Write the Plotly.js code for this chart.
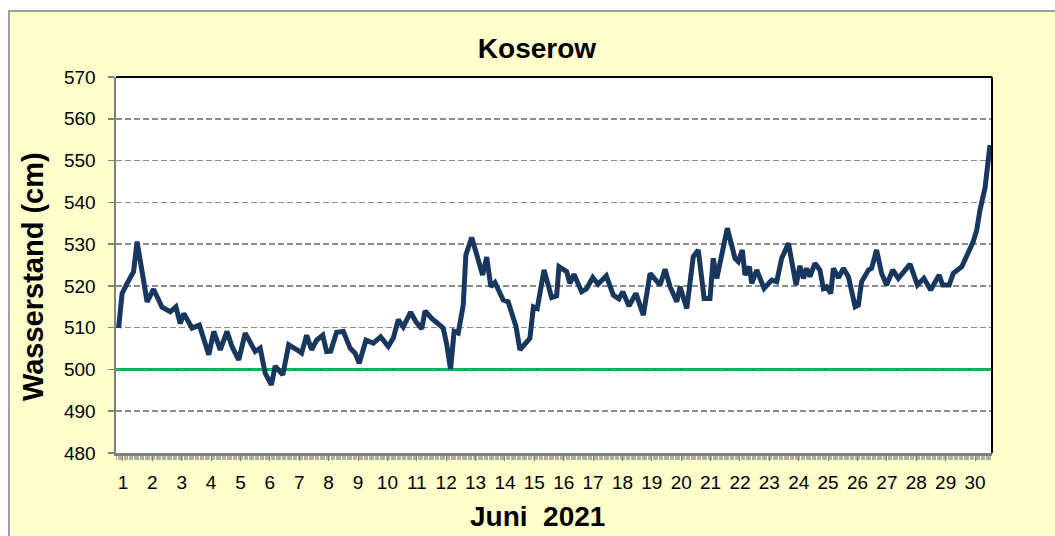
<!DOCTYPE html>
<html>
<head>
<meta charset="utf-8">
<script src="https://cdn.plot.ly/plotly-3.0.1.min.js"></script>
<style>
  html, body { margin: 0; padding: 0; background: #ffffff; }
  #frame { position: absolute; left: 8px; top: 10px; width: 1045px; height: 524px;
           border-left: 2px solid #a0a0a0; border-top: 2px solid #a0a0a0; }
</style>
</head>
<body>
<div id="frame"><div id="chart"></div></div>
<script>
// Time in days of June 2021 (fractional), water level in cm
const days = [0.85,0.97,1.14,1.36,1.48,1.65,1.82,2.04,2.33,2.61,2.80,2.95,3.07,3.35,3.60,3.92,4.09,4.31,4.54,4.71,
  4.94,5.16,5.50,5.67,5.84,6.05,6.18,6.44,6.64,6.92,7.08,7.25,7.42,7.59,7.80,7.93,8.07,8.27,8.50,8.73,
  8.90,9.04,9.27,9.52,9.77,10.03,10.20,10.37,10.54,10.79,10.97,11.17,11.28,11.51,11.73,11.90,12.02,12.15,12.27,12.41,
  12.58,12.67,12.87,13.24,13.38,13.52,13.66,13.94,14.11,14.31,14.38,14.51,14.85,14.97,15.10,15.33,15.59,15.76,15.84,16.10,
  16.21,16.35,16.61,16.78,16.99,17.17,17.45,17.69,17.88,18.01,18.22,18.46,18.71,18.94,19.28,19.45,19.62,19.85,19.96,20.19,
  20.41,20.58,20.78,20.98,21.09,21.21,21.57,21.83,21.94,22.08,22.17,22.32,22.40,22.57,22.82,23.08,23.25,23.42,23.65,23.91,
  24.04,24.16,24.27,24.38,24.55,24.72,24.84,24.95,25.09,25.18,25.35,25.52,25.69,25.92,26.03,26.14,26.37,26.48,26.65,26.82,
  26.99,27.20,27.39,27.79,28.04,28.26,28.49,28.78,28.90,29.12,29.26,29.55,29.77,29.94,30.06,30.17,30.34,30.45,30.51];
const levels = [509.9,518.2,520.6,523.4,530.6,523.8,516.2,519.2,514.9,513.8,515.0,511.0,513.4,509.9,510.6,503.5,509.1,504.7,509.1,505.5,
  502.3,508.7,504.3,505.1,499.1,496.3,500.8,498.7,505.9,504.7,503.9,508.2,504.7,507.0,508.2,504.3,504.4,508.9,509.1,505.1,
  503.9,501.5,507.0,506.3,507.8,505.5,507.5,511.9,510.2,513.7,511.4,509.7,514.0,512.2,510.8,509.9,505.9,500.1,509.1,508.7,
  515.4,527.4,531.6,522.6,526.9,519.8,520.8,516.6,516.2,511.8,510.2,504.7,507.5,515.0,514.6,523.8,517.2,517.6,524.6,523.4,
  520.6,522.8,518.6,519.3,522.0,520.4,522.4,517.8,516.9,518.6,515.2,518.2,513.0,523.0,520.2,524.0,519.8,516.2,519.8,514.6,
  527.0,528.6,517.0,517.0,526.6,521.8,533.8,526.6,525.8,528.6,522.6,524.6,520.6,523.8,519.4,521.4,521.0,526.6,530.2,520.2,
  524.8,521.8,524.2,522.2,525.4,523.8,519.4,519.8,518.2,524.2,521.9,524.2,522.2,515.0,515.4,521.0,523.8,524.2,528.6,523.0,
  520.2,523.8,521.8,525.2,520.2,521.8,519.0,522.6,520.2,520.2,523.0,524.6,528.2,530.6,533.4,538.2,543.4,550.5,553.7];
const threshold = 500;
const yRange = [480, 570];
const xRange = [0.762, 30.578];
const chartTitle = 'Koserow';
const yTitle = 'Wasserstand (cm)';
const xTitle = 'Juni\u00a0 2021';

const font = 'Arial, "Liberation Sans", sans-serif';

const trace = {
  x: days, y: levels, type: 'scatter', mode: 'lines',
  line: { color: '#17375E', width: 5, shape: 'linear' },
  hoverinfo: 'x+y', showlegend: false
};

const layout = {
  width: 1045, height: 524,
  margin: { l: 106, r: 63, t: 65, b: 83, pad: 0 },
  paper_bgcolor: '#FFFFCC',
  plot_bgcolor: '#FFFFFF',
  font: { family: font, color: '#000000' },
  title: {
    text: '<b>' + chartTitle + '</b>',
    font: { family: font, size: 28, color: '#000000' },
    xref: 'container', yref: 'container', x: 0.5043, y: 0.931,
    xanchor: 'center', yanchor: 'middle'
  },
  xaxis: {
    range: xRange, tickmode: 'linear', tick0: 1, dtick: 1,
    ticks: 'outside', ticklen: 5, tickwidth: 1, tickcolor: '#808080',
    showline: true, linecolor: '#808080', linewidth: 2.5,
    showgrid: false, zeroline: false,
    tickfont: { family: font, size: 19, color: '#000000' },
    ticklabelstandoff: 6,
    minor: { ticks: 'outside', dtick: 1 / 24, tick0: 1, ticklen: 4, tickwidth: 0.8, tickcolor: '#9a9a9a', showgrid: false },
    fixedrange: true
  },
  yaxis: {
    range: yRange, tickmode: 'linear', tick0: 480, dtick: 10,
    ticks: 'outside', ticklen: 6, tickwidth: 1.5, tickcolor: '#808080',
    showline: true, linecolor: '#808080', linewidth: 2.5,
    showgrid: true, gridcolor: '#8c8c8c', gridwidth: 1.6, griddash: '6px,3px',
    zeroline: false,
    tickfont: { family: font, size: 19, color: '#000000' },
    ticklabelstandoff: 8,
    fixedrange: true
  },
  shapes: [
    { type: 'line', xref: 'paper', yref: 'y', x0: 0, x1: 1, y0: threshold, y1: threshold,
      line: { color: '#00B050', width: 3 }, layer: 'between' },
    { type: 'line', xref: 'paper', yref: 'paper', x0: 0, x1: 1, y0: 1, y1: 1,
      line: { color: '#000000', width: 2 }, layer: 'above' },
    { type: 'line', xref: 'paper', yref: 'paper', x0: 1, x1: 1, y0: 0, y1: 1,
      line: { color: '#000000', width: 2 }, layer: 'above' }
  ],
  annotations: [
    { text: '<b>' + yTitle + '</b>', textangle: -90, xref: 'paper', yref: 'paper',
      x: -0.0947, y: 0.468, xanchor: 'center', yanchor: 'middle', showarrow: false,
      font: { family: font, size: 29, color: '#000000' } },
    { text: '<b>' + xTitle + '</b>', xref: 'paper', yref: 'paper',
      x: 0.4806, y: -0.170, xanchor: 'center', yanchor: 'middle', showarrow: false,
      font: { family: font, size: 28, color: '#000000' } }
  ]
};

Plotly.newPlot('chart', [trace], layout, { displayModeBar: false, staticPlot: true });
</script>
</body>
</html>
